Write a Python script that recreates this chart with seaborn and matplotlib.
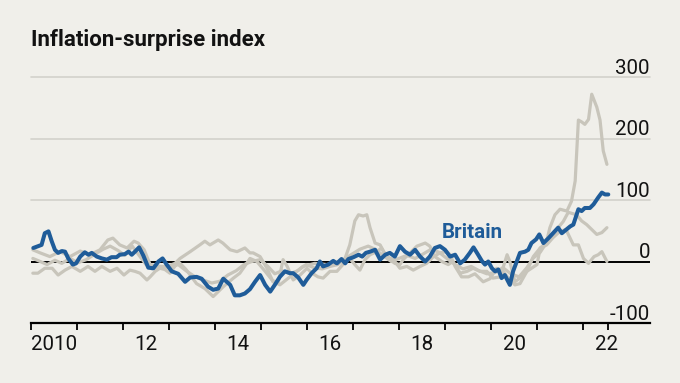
import pandas as pd
import seaborn as sns
import matplotlib.pyplot as plt
from matplotlib import transforms

TITLE = "Inflation-surprise index"
HIGHLIGHT = "Britain"

# Britain (decimal year, index value)
britain_year = [
    2010.05, 2010.16, 2010.23, 2010.30, 2010.38, 2010.45, 2010.52, 2010.59, 2010.67, 2010.74,
    2010.81, 2010.91, 2010.98, 2011.07, 2011.17, 2011.25, 2011.32, 2011.43, 2011.54, 2011.65,
    2011.75, 2011.86, 2011.93, 2012.04, 2012.12, 2012.19, 2012.26, 2012.35, 2012.44, 2012.55,
    2012.66, 2012.77, 2012.86, 2012.95, 2013.06, 2013.20, 2013.35, 2013.46, 2013.60, 2013.71,
    2013.85, 2013.96, 2014.07, 2014.18, 2014.33, 2014.43, 2014.54, 2014.65, 2014.76, 2014.87,
    2014.98, 2015.09, 2015.20, 2015.30, 2015.41, 2015.52, 2015.63, 2015.70, 2015.81, 2015.92,
    2015.99, 2016.10, 2016.21, 2016.28, 2016.35, 2016.46, 2016.57, 2016.65, 2016.75, 2016.83,
    2016.90, 2017.01, 2017.12, 2017.20, 2017.28, 2017.37, 2017.48, 2017.59, 2017.70, 2017.80,
    2017.91, 2018.02, 2018.13, 2018.24, 2018.35, 2018.46, 2018.57, 2018.67, 2018.78, 2018.89,
    2019.00, 2019.11, 2019.22, 2019.33, 2019.43, 2019.54, 2019.62, 2019.72, 2019.80, 2019.87,
    2019.94, 2020.02, 2020.09, 2020.16, 2020.23, 2020.30, 2020.41, 2020.48, 2020.56, 2020.63,
    2020.74, 2020.81, 2020.88, 2020.98, 2021.05, 2021.14, 2021.25, 2021.35, 2021.46, 2021.54,
    2021.64, 2021.72, 2021.79, 2021.90, 2021.97, 2022.04, 2022.15, 2022.23, 2022.33, 2022.41,
    2022.48, 2022.55,
]
britain_value = [
    22, 25, 27, 46, 49, 33, 19, 14, 17, 16,
    5, -5, -3, 8, 15, 11, 14, 8, 5, 3,
    7, 7, 11, 12, 16, 11, 16, 23, 10, -10,
    -11, 0, 5, -5, -16, -20, -33, -26, -25, -28,
    -41, -46, -44, -28, -38, -55, -55, -52, -45, -33,
    -22, -38, -49, -38, -25, -16, -19, -19, -26, -38,
    -30, -19, -11, 0, -8, -5, 1, -3, 4, -3,
    4, 7, 11, 8, 14, 16, 19, 3, 11, 14,
    8, 25, 16, 11, 19, 8, 0, 8, 22, 25,
    19, 8, 11, -3, 3, 14, 23, 11, 1, -5,
    0, -11, -16, -13, -27, -22, -38, -16, 0, 14,
    16, 19, 30, 36, 44, 30, 38, 46, 55, 46,
    52, 57, 60, 85, 82, 87, 87, 93, 104, 112,
    109, 109,
]

# Other economies (grey)
grey_a_year = [
    2010.04, 2010.20, 2010.41, 2010.63, 2010.85, 2011.07, 2011.28, 2011.50, 2011.67, 2011.78,
    2011.93, 2012.09, 2012.24, 2012.33, 2012.46, 2012.59, 2012.80, 2012.96, 2013.13, 2013.24,
    2013.46, 2013.67, 2013.78, 2013.89, 2014.07, 2014.17, 2014.33, 2014.48, 2014.65, 2014.76,
    2014.83, 2014.98, 2015.13, 2015.26, 2015.37, 2015.48, 2015.57, 2015.70, 2015.85, 2016.00,
    2016.11, 2016.24, 2016.35, 2016.50, 2016.65, 2016.78, 2016.93, 2017.04, 2017.12, 2017.22,
    2017.30, 2017.37, 2017.48, 2017.59, 2017.70, 2017.80, 2017.91, 2018.02, 2018.09, 2018.24,
    2018.39, 2018.57, 2018.67, 2018.78, 2018.93, 2019.07, 2019.17, 2019.33, 2019.48, 2019.61,
    2019.76, 2019.91, 2020.04, 2020.20, 2020.35, 2020.41, 2020.52, 2020.63, 2020.78, 2021.00,
    2021.07, 2021.20, 2021.28, 2021.39, 2021.50, 2021.65, 2021.75, 2021.83, 2021.90, 2021.97,
    2022.04, 2022.12, 2022.19, 2022.30, 2022.37, 2022.44, 2022.52,
]
grey_a_value = [
    19, 14, 8, 16, 8, 17, 11, 19, 35, 38,
    27, 22, 33, 30, 19, -5, -8, -8, -3, 5,
    16, 27, 33, 27, 35, 30, 19, 16, 22, 14,
    14, 8, -11, -33, -36, 3, -8, -30, -22, -11,
    -19, -25, -27, -16, -16, -5, 27, 66, 76, 74,
    76, 55, 30, 27, 11, 3, -3, -5, 3, 14,
    25, 30, 25, 8, 0, -5, 0, -19, -16, -11,
    -16, -16, -27, -25, 11, 0, -33, -27, -16, -5,
    22, 30, 55, 76, 85, 82, 98, 131, 230, 227,
    223, 231, 272, 251, 230, 180, 158,
]

grey_b_year = [
    2010.04, 2010.15, 2010.30, 2010.46, 2010.59, 2010.74, 2010.89, 2011.07, 2011.24, 2011.39,
    2011.54, 2011.72, 2011.87, 2012.02, 2012.15, 2012.26, 2012.37, 2012.52, 2012.59, 2012.70,
    2012.80, 2012.91, 2013.02, 2013.20, 2013.37, 2013.60, 2013.78, 2013.96, 2014.07, 2014.18,
    2014.40, 2014.54, 2014.69, 2014.76, 2014.91, 2015.09, 2015.24, 2015.41, 2015.63, 2015.91,
    2016.17, 2016.43, 2016.72, 2016.93, 2017.04, 2017.15, 2017.26, 2017.37, 2017.52, 2017.62,
    2017.73, 2017.88, 2018.02, 2018.17, 2018.31, 2018.46, 2018.60, 2018.75, 2018.89, 2019.04,
    2019.11, 2019.22, 2019.36, 2019.51, 2019.65, 2019.83, 2019.98, 2020.12, 2020.26, 2020.41,
    2020.52, 2020.63, 2020.78, 2020.92, 2021.07, 2021.21, 2021.35, 2021.50, 2021.63, 2021.72,
    2021.79, 2021.90, 2022.01, 2022.12, 2022.24, 2022.33, 2022.41, 2022.52,
]
grey_b_value = [
    -19, -19, -11, -11, -22, -14, -8, -16, -8, -16,
    -8, -16, -11, -22, -14, -16, -19, -30, -25, -16,
    -11, -13, -19, 0, -13, -36, -44, -57, -49, -41,
    -27, -19, -3, 5, 0, -16, -30, -38, -25, -8,
    -3, -5, 0, 5, -5, -14, 3, 11, 16, 22,
    8, 3, -11, -8, -14, -8, -3, 8, 14, 16,
    11, -8, -25, -25, -20, -33, -28, -11, -16, -30,
    -38, -36, -16, 8, 22, 27, 39, 49, 52, 38,
    27, 27, 5, -3, 8, 11, 16, 0,
]

grey_c_year = [
    2010.04, 2010.20, 2010.35, 2010.52, 2010.67, 2010.85, 2011.02, 2011.20, 2011.39, 2011.57,
    2011.72, 2011.89, 2012.04, 2012.20, 2012.35, 2012.50, 2012.63, 2012.80, 2013.02, 2013.20,
    2013.37, 2013.57, 2013.74, 2013.93, 2014.11, 2014.28, 2014.46, 2014.63, 2014.80, 2014.98,
    2015.15, 2015.30, 2015.46, 2015.63, 2015.80, 2015.98, 2016.15, 2016.33, 2016.50, 2016.67,
    2016.83, 2016.98, 2017.15, 2017.33, 2017.48, 2017.65, 2017.83, 2018.00, 2018.17, 2018.35,
    2018.52, 2018.70, 2018.87, 2019.04, 2019.22, 2019.39, 2019.57, 2019.74, 2019.91, 2020.09,
    2020.26, 2020.43, 2020.61, 2020.78, 2020.91, 2021.07, 2021.20, 2021.33, 2021.46, 2021.57,
    2021.68, 2021.86, 2021.97, 2022.08, 2022.19, 2022.30, 2022.41, 2022.52,
]
grey_c_value = [
    5, 0, -5, 2, -3, 5, -2, 3, 12, 20,
    25, 18, 10, 25, 10, -5, -12, -8, -10, -5,
    -15, -25, -30, -35, -32, -22, -15, -5, 0, 3,
    -8, -20, -15, -20, -15, -5, -10, -12, -8, -5,
    5, 12, 20, 25, 20, 10, 0, 5, 10, 5,
    12, 20, 15, 5, -5, -12, -8, -15, -20, -18,
    -10, -20, -25, -10, 5, 15, 30, 45, 55, 65,
    80, 76, 66, 60, 52, 44, 47, 55,
]

Y_TICKS = [-100, 0, 100, 200, 300]
Y_LABELS = ["-100", "0", "100", "200", "300"]
LABEL_YEARS = [2010, 2012, 2014, 2016, 2018, 2020, 2022]
X_LABELS = ["2010", "12", "14", "16", "18", "20", "22"]

BG = "#f0efea"
BLUE = "#1f5c99"
GREY = "#c8c5bb"
GRID = "#d3d1cb"

grey = pd.concat(
    [
        pd.DataFrame({"year": grey_a_year, "value": grey_a_value, "series": "a"}),
        pd.DataFrame({"year": grey_b_year, "value": grey_b_value, "series": "b"}),
        pd.DataFrame({"year": grey_c_year, "value": grey_c_value, "series": "c"}),
    ],
    ignore_index=True,
)
britain = pd.DataFrame({"year": britain_year, "value": britain_value})

sns.set_style("white")
plt.rcParams["font.family"] = ["Roboto", "DejaVu Sans"]

fig = plt.figure(figsize=(6.8, 3.83), dpi=100, facecolor=BG)
ax = fig.add_axes([31 / 680, 60 / 383, 619 / 680, 246 / 383])
ax.set_facecolor(BG)

# Gridlines and zero line
for v in Y_TICKS[2:]:
    ax.axhline(v, color=GRID, lw=1.2, zorder=0, clip_on=False)
ax.axhline(0, color="black", lw=1.4, zorder=1)

sns.lineplot(
    data=grey, x="year", y="value", units="series", estimator=None,
    color=GREY, lw=2.3, ax=ax, zorder=2,
)
sns.lineplot(data=britain, x="year", y="value", color=BLUE, lw=2.9, ax=ax, zorder=3)

ax.set_xlim(2010, 2010 + 619 / 46)
ax.set_ylim(-100, 300)
ax.set(xlabel=None, ylabel=None)

for side in ["top", "right", "left"]:
    ax.spines[side].set_visible(False)
ax.spines["bottom"].set_color("black")
ax.spines["bottom"].set_linewidth(1.6)

# Year ticks at boundaries, labels centred in the year
ax.set_xticks(list(range(2010, 2023)) + [max(britain_year)])
ax.set_xticklabels([])
ax.set_xticks([y + 0.5 for y in LABEL_YEARS], minor=True)
ax.set_xticklabels(X_LABELS, minor=True, fontsize=14.8, color="#121212")
ax.tick_params(axis="x", which="major", bottom=True, direction="out",
               length=5, width=1.3, color="black")
ax.tick_params(axis="x", which="minor", bottom=True, length=0, pad=8.5)
ax.set_yticks([])

# Y labels sitting on the gridlines, right aligned
trans = transforms.offset_copy(
    transforms.blended_transform_factory(ax.transAxes, ax.transData),
    fig=fig, y=2.2, units="points",
)
for v, lab in zip(Y_TICKS, Y_LABELS):
    ax.text(1.0, v, lab, transform=trans, ha="right", va="baseline",
            fontsize=14.8, color="#121212")

ax.text(2018.93, 38, HIGHLIGHT, color=BLUE, fontsize=14.8, weight="bold",
        ha="left", va="baseline")

fig.text(31 / 680, 1 - 46 / 383, TITLE, ha="left", va="baseline", fontsize=16,
         weight="bold", color="#121212")

fig.savefig("out.png", dpi=100, facecolor=BG)
